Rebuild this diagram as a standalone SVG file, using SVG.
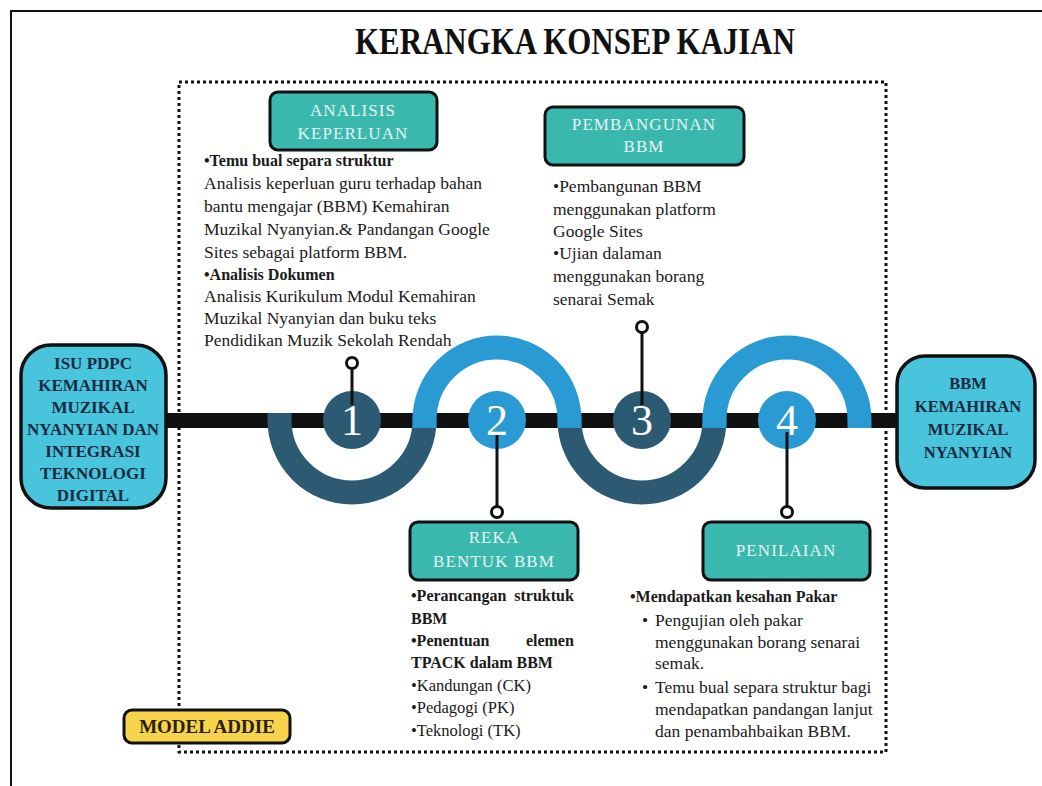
<svg xmlns="http://www.w3.org/2000/svg" width="1042" height="786" viewBox="0 0 1042 786">
<style>
.t{font-family:"Liberation Serif","Times New Roman",serif;fill:#1a1a1a;font-size:17.5px}
.s{font-size:16.5px}
.b{font-weight:bold;font-size:16px}
.hd{font-family:"Liberation Serif","Times New Roman",serif;fill:#e6f4f3;font-size:17px;text-anchor:middle;letter-spacing:1.1px}
.bx{font-family:"Liberation Serif","Times New Roman",serif;fill:#1c2a40;font-size:17px;font-weight:bold;text-anchor:middle}
.teal{fill:#3bb8ae;stroke:#111;stroke-width:3}
.cyan{fill:#48c4dd;stroke:#111;stroke-width:3.5}
.num{font-family:"Liberation Serif","Times New Roman",serif;fill:#fff;font-size:44px;text-anchor:middle}
.pin{stroke:#111;stroke-width:3;fill:none}
.ring{stroke:#111;stroke-width:3;fill:#fff}
</style>
<rect width="1042" height="786" fill="#fff"/>
<path d="M11,786 V11 H1042" fill="none" stroke="#111" stroke-width="2"/>
<text x="575" y="54" style="font-family:'Liberation Serif','Times New Roman',serif;font-size:37px;font-weight:bold;fill:#111" text-anchor="middle" textLength="440" lengthAdjust="spacingAndGlyphs">KERANGKA KONSEP KAJIAN</text>
<rect x="179" y="82" width="707" height="670" fill="none" stroke="#111" stroke-width="3" stroke-dasharray="3,3"/>

<g id="connectors">
<rect x="165" y="413" width="733" height="15" fill="#111"/>
<path d="M279.5,413 V420 A72.5,72.5 0 0 0 424.5,420 V413" fill="none" stroke="#2d5a73" stroke-width="24"/>
<path d="M569.5,413 V420 A72.5,72.5 0 0 0 714.5,420 V413" fill="none" stroke="#2d5a73" stroke-width="24"/>
<path d="M424.5,428 V420 A72.5,72.5 0 0 1 569.5,420 V428" fill="none" stroke="#2a9ad4" stroke-width="24"/>
<path d="M714.5,428 V420 A72.5,72.5 0 0 1 859.5,420 V428" fill="none" stroke="#2a9ad4" stroke-width="24"/>
</g>

<g id="step1">
<circle cx="352" cy="420" r="29" fill="#2d5a73"/>
<line x1="352" y1="369" x2="352" y2="405" class="pin"/>
<circle cx="352" cy="363" r="5.5" class="ring"/>
<text x="352" y="435" class="num">1</text>
</g>
<g id="step2">
<circle cx="497" cy="420" r="29" fill="#2a9ad4"/>
<line x1="497" y1="432" x2="497" y2="506" class="pin"/>
<circle cx="497" cy="512" r="5.5" class="ring"/>
<text x="497" y="435" class="num">2</text>
</g>
<g id="step3">
<circle cx="642" cy="420" r="29" fill="#2d5a73"/>
<line x1="642" y1="333" x2="642" y2="405" class="pin"/>
<circle cx="642" cy="327" r="5.5" class="ring"/>
<text x="642" y="435" class="num">3</text>
</g>
<g id="step4">
<circle cx="787" cy="420" r="29" fill="#2a9ad4"/>
<line x1="787" y1="432" x2="787" y2="506" class="pin"/>
<circle cx="787" cy="512" r="5.5" class="ring"/>
<text x="787" y="435" class="num">4</text>
</g>

<g id="isu">
<rect x="21" y="345" width="145" height="163" rx="30" class="cyan"/>
<text class="bx"><tspan x="93" y="369">ISU PDPC</tspan><tspan x="93" y="391">KEMAHIRAN</tspan><tspan x="93" y="413">MUZIKAL</tspan><tspan x="93" y="435">NYANYIAN DAN</tspan><tspan x="93" y="457">INTEGRASI</tspan><tspan x="93" y="479">TEKNOLOGI</tspan><tspan x="93" y="501">DIGITAL</tspan></text>
</g>
<g id="bbm">
<rect x="897" y="356" width="138" height="132" rx="28" class="cyan"/>
<text class="bx" style="font-size:16.5px"><tspan x="968" y="389">BBM</tspan><tspan x="968" y="412">KEMAHIRAN</tspan><tspan x="968" y="435">MUZIKAL</tspan><tspan x="968" y="458">NYANYIAN</tspan></text>
</g>

<g id="analisis">
<rect x="270" y="92" width="167" height="58" rx="8" class="teal"/>
<text class="hd"><tspan x="353" y="116">ANALISIS</tspan><tspan x="353" y="139">KEPERLUAN</tspan></text>
<text class="t">
<tspan x="204" y="166" class="b">•Temu bual separa struktur</tspan>
<tspan x="204" y="189">Analisis keperluan guru terhadap bahan</tspan>
<tspan x="204" y="212">bantu mengajar (BBM) Kemahiran</tspan>
<tspan x="204" y="235">Muzikal Nyanyian.&amp; Pandangan Google</tspan>
<tspan x="204" y="258">Sites sebagai platform BBM.</tspan>
<tspan x="204" y="280" class="b">•Analisis Dokumen</tspan>
<tspan x="204" y="302">Analisis Kurikulum Modul Kemahiran</tspan>
<tspan x="204" y="324">Muzikal Nyanyian dan buku teks</tspan>
<tspan x="204" y="346">Pendidikan Muzik Sekolah Rendah</tspan>
</text>
</g>

<g id="pembangunan">
<rect x="545" y="107" width="199" height="58" rx="8" class="teal"/>
<text class="hd"><tspan x="644" y="130">PEMBANGUNAN</tspan><tspan x="644" y="152">BBM</tspan></text>
<text class="t">
<tspan x="553" y="192">•Pembangunan BBM</tspan>
<tspan x="553" y="215">menggunakan platform</tspan>
<tspan x="553" y="237">Google Sites</tspan>
<tspan x="553" y="259">•Ujian dalaman</tspan>
<tspan x="553" y="282">menggunakan borang</tspan>
<tspan x="553" y="305">senarai Semak</tspan>
</text>
</g>

<g id="reka">
<rect x="410" y="522" width="168" height="58" rx="8" class="teal"/>
<text class="hd"><tspan x="494" y="543">REKA</tspan><tspan x="494" y="567">BENTUK BBM</tspan></text>
<text class="t s">
<tspan x="411" y="601" class="b">•Perancangan</tspan><tspan x="578" y="601" class="b" text-anchor="end">struktuk</tspan>
<tspan x="411" y="624" class="b">BBM</tspan>
<tspan x="411" y="646" class="b">•Penentuan</tspan><tspan x="578" y="646" class="b" text-anchor="end">elemen</tspan>
<tspan x="411" y="668" class="b">TPACK dalam BBM</tspan>
<tspan x="411" y="691">•Kandungan (CK)</tspan>
<tspan x="411" y="713">•Pedagogi (PK)</tspan>
<tspan x="411" y="736">•Teknologi (TK)</tspan>
</text>
</g>

<g id="penilaian">
<rect x="703" y="522" width="167" height="58" rx="8" class="teal"/>
<text x="786" y="556" class="hd">PENILAIAN</text>
<text class="t">
<tspan x="630" y="602" class="b">•Mendapatkan kesahan Pakar</tspan>
<tspan x="642" y="626">•</tspan><tspan x="655" y="626">Pengujian oleh pakar</tspan>
<tspan x="655" y="648">menggunakan borang senarai</tspan>
<tspan x="655" y="669">semak.</tspan>
<tspan x="642" y="693">•</tspan><tspan x="655" y="693">Temu bual separa struktur bagi</tspan>
<tspan x="655" y="715">mendapatkan pandangan lanjut</tspan>
<tspan x="655" y="737">dan penambahbaikan BBM.</tspan>
</text>
</g>

<g id="addie">
<rect x="124" y="710" width="166" height="33" rx="8" fill="#f7d44c" stroke="#111" stroke-width="3"/>
<text x="207" y="733" style="font-family:'Liberation Serif','Times New Roman',serif;font-size:19px;font-weight:bold;fill:#2a1e10" text-anchor="middle">MODEL ADDIE</text>
</g>
</svg>
